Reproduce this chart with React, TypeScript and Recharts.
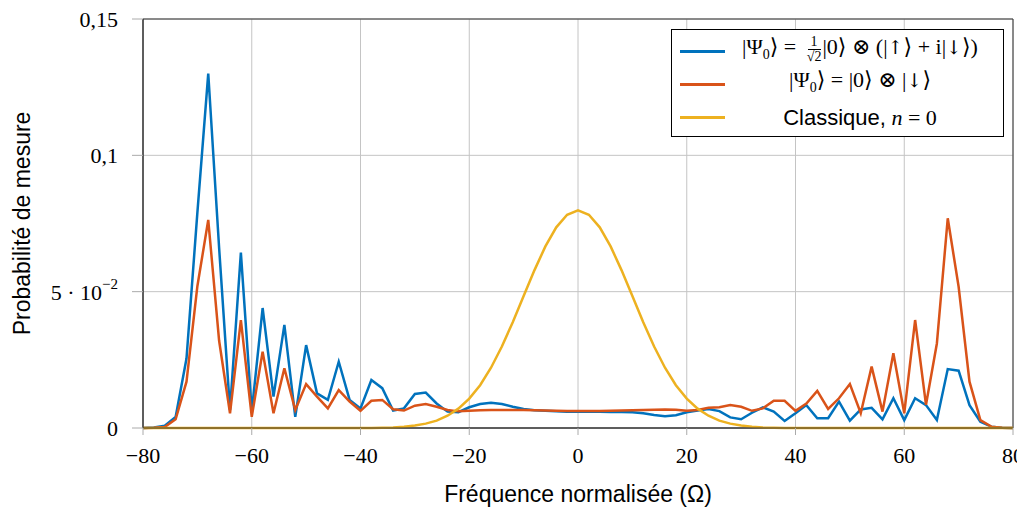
import { LineChart, Line, XAxis, YAxis, CartesianGrid, Legend, ReferenceArea, Label } from 'recharts';

const frequences = [
  -80, -78, -76, -74, -72, -70, -68, -66, -64, -62, -60, -58, -56, -54, -52, -50, -48, -46, -44, -42, -40,
  -38, -36, -34, -32, -30, -28, -26, -24, -22, -20, -18, -16, -14, -12, -10, -8, -6, -4, -2, 0,
  2, 4, 6, 8, 10, 12, 14, 16, 18, 20, 22, 24, 26, 28, 30, 32, 34, 36, 38, 40,
  42, 44, 46, 48, 50, 52, 54, 56, 58, 60, 62, 64, 66, 68, 70, 72, 74, 76, 78, 80,
];

// |Psi0> = 1/sqrt2 |0> (x) (|up> + i|down>)
const superpose = [
  0, 0.0002, 0.0008, 0.004, 0.0255, 0.079, 0.13, 0.066, 0.0066, 0.0643, 0.006,
  0.044, 0.0115, 0.0378, 0.0041, 0.0304, 0.0127, 0.0103, 0.0243, 0.0103, 0.0072,
  0.0176, 0.0146, 0.0064, 0.0072, 0.0125, 0.013, 0.009, 0.006, 0.0058, 0.0076,
  0.0088, 0.0093, 0.0088, 0.0078, 0.007, 0.0065, 0.0063, 0.0061, 0.006, 0.006,
  0.006, 0.006, 0.0059, 0.0059, 0.0058, 0.0054, 0.0048, 0.0043, 0.0047, 0.0058,
  0.0064, 0.007, 0.0062, 0.0039, 0.0032, 0.0056, 0.0076, 0.006, 0.0026, 0.0054,
  0.0084, 0.0036, 0.0036, 0.0097, 0.0027, 0.0068, 0.0074, 0.0032, 0.0109, 0.0029,
  0.0109, 0.0084, 0.0029, 0.0216, 0.021, 0.0084, 0.0023, 0.0005, 0.0001, 0,
];

// |Psi0> = |0> (x) |down>
const spinBas = [
  0, 0.0001, 0.0004, 0.0032, 0.017, 0.052, 0.0763, 0.032, 0.0054, 0.0396, 0.0041,
  0.028, 0.0054, 0.0219, 0.0066, 0.0161, 0.0115, 0.0072, 0.0139, 0.0097, 0.0063,
  0.01, 0.0103, 0.0069, 0.0064, 0.0082, 0.0088, 0.0078, 0.0066, 0.0061, 0.0063,
  0.0065, 0.0066, 0.0066, 0.0066, 0.0066, 0.0065, 0.0064, 0.0063, 0.0062, 0.0062,
  0.0062, 0.0062, 0.0063, 0.0064, 0.0065, 0.0066, 0.0067, 0.0068, 0.0067, 0.0063,
  0.0066, 0.0074, 0.0076, 0.0084, 0.0078, 0.0063, 0.0072, 0.01, 0.01, 0.0063,
  0.009, 0.0136, 0.007, 0.0109, 0.0161, 0.0054, 0.0225, 0.006, 0.0274, 0.0054,
  0.0396, 0.0085, 0.031, 0.0769, 0.0518, 0.017, 0.0029, 0.0005, 0.0001, 0,
];

// classique, n = 0
const classique = [
  0, 0, 0, 0, 0, 0, 0, 0, 0, 0, 0,
  0, 0, 0, 0, 0, 0, 0, 0, 0, 0,
  0, 0.0001, 0.0002, 0.0005, 0.0009, 0.0016, 0.0027, 0.0045, 0.0071, 0.0108,
  0.0157, 0.0221, 0.0299, 0.0388, 0.0484, 0.0579, 0.0666, 0.0736, 0.0782, 0.0798,
  0.0782, 0.0736, 0.0666, 0.0579, 0.0484, 0.0388, 0.0299, 0.0221, 0.0157, 0.0108,
  0.0071, 0.0045, 0.0027, 0.0016, 0.0009, 0.0005, 0.0002, 0.0001, 0, 0,
  0, 0, 0, 0, 0, 0, 0, 0, 0, 0,
  0, 0, 0, 0, 0, 0, 0, 0, 0, 0,
];

const xTicks = [-80, -60, -40, -20, 0, 20, 40, 60, 80];
const yTicks = [0, 0.05, 0.1, 0.15];
const seriesOrder = ['superpose', 'spinBas', 'classique'];

const BLUE = '#0072BD';
const ORANGE = '#D95319';
const YELLOW = '#EDB120';
const SERIF = '"Liberation Serif", "DejaVu Serif", serif';
const SANS = '"Liberation Sans", Arial, sans-serif';

const data = frequences.map((f, i) => ({
  f,
  superpose: superpose[i],
  spinBas: spinBas[i],
  classique: classique[i],
}));

function XTick({ x, y, payload }: any) {
  const v = payload.value as number;
  const txt = v < 0 ? `\u2212${Math.abs(v)}` : `${v}`;
  return (
    <text x={x} y={y + 18} textAnchor="middle" dominantBaseline="central" fontFamily={SERIF} fontSize={22} fill="#000">
      {txt}
    </text>
  );
}

function YTick({ x, y, payload }: any) {
  const v = payload.value as number;
  if (Math.abs(v - 0.05) < 1e-9) {
    return (
      <text x={x} y={y + 1} textAnchor="end" dominantBaseline="central" fontFamily={SERIF} fontSize={22} fill="#000">
        5 · 10<tspan dy={-9} fontSize={15}>−2</tspan>
      </text>
    );
  }
  const txt = v === 0 ? '0' : String(v).replace('.', ',');
  return (
    <text x={x} y={y} textAnchor="end" dominantBaseline="central" fontFamily={SERIF} fontSize={22} fill="#000">
      {txt}
    </text>
  );
}

function Ket({ children }: { children: any }) {
  return <span>|{children}⟩</span>;
}

function Arrow({ c }: { c: string }) {
  return <span style={{ fontFamily: '"DejaVu Serif", serif', fontSize: 19 }}>{c}</span>;
}

function Frac() {
  return (
    <span
      style={{
        display: 'inline-flex',
        flexDirection: 'column',
        alignItems: 'center',
        verticalAlign: 'middle',
        fontSize: 14,
        lineHeight: '14px',
        margin: '0 1px 0 5px',
      }}
    >
      <span style={{ borderBottom: '1px solid #000', padding: '0 3px' }}>1</span>
      <span>√2</span>
    </span>
  );
}

const legendLabels: Record<string, any> = {
  superpose: (
    <span>
      <Ket>
        Ψ<sub style={{ fontSize: 14 }}>0</sub>
      </Ket>{' '}
      = <Frac />
      <Ket>0</Ket> ⊗ (<Ket><Arrow c="↑" /></Ket> + i<Ket><Arrow c="↓" /></Ket>)
    </span>
  ),
  spinBas: (
    <span>
      <Ket>
        Ψ<sub style={{ fontSize: 14 }}>0</sub>
      </Ket>{' '}
      = <Ket>0</Ket> ⊗ <Ket><Arrow c="↓" /></Ket>
    </span>
  ),
  classique: (
    <span>
      <span style={{ fontFamily: SANS }}>Classique,</span> <i>n</i> = 0
    </span>
  ),
};

function LegendBox({ payload }: any) {
  const items = seriesOrder
    .map((k) => (payload || []).find((p: any) => p.dataKey === k))
    .filter(Boolean);
  return (
    <div
      style={{
        boxSizing: 'border-box',
        width: 333,
        height: 108,
        border: '1px solid #000',
        background: '#fff',
        paddingTop: 5,
        fontFamily: SERIF,
        fontSize: 22,
        color: '#000',
      }}
    >
      {items.map((p: any) => (
        <div key={p.dataKey} style={{ display: 'flex', alignItems: 'center', height: 33 }}>
          <div style={{ width: 45, height: 3, background: p.color, marginLeft: 8, flex: 'none' }} />
          <div style={{ width: 262, marginLeft: 4, textAlign: 'center', whiteSpace: 'nowrap', lineHeight: '26px' }}>
            {legendLabels[p.dataKey]}
          </div>
        </div>
      ))}
    </div>
  );
}

export default function App() {
  return (
    <div style={{ width: 1017, height: 504 }}>
      <LineChart width={1017} height={504} data={data} margin={{ top: 11, right: 12, left: 0, bottom: 0 }}>
        <CartesianGrid stroke="#c4c4c4" strokeWidth={1} />
        <XAxis
          dataKey="f"
          type="number"
          domain={[-80, 80]}
          ticks={xTicks}
          height={84}
          tick={<XTick />}
          tickSize={7}
          tickMargin={2}
          axisLine={{ stroke: '#333' }}
          tickLine={{ stroke: '#aaa' }}
        >
          <Label
            content={({ viewBox }: any) => (
              <text
                x={viewBox.x + viewBox.width / 2}
                y={486}
                textAnchor="middle"
                dominantBaseline="central"
                fontFamily={SANS}
                fontSize={23}
                fill="#000"
              >
                Fréquence normalisée (Ω)
              </text>
            )}
          />
        </XAxis>
        <YAxis
          type="number"
          domain={[0, 0.15]}
          ticks={yTicks}
          width={135}
          tick={<YTick />}
          tickSize={11}
          tickMargin={14}
          axisLine={{ stroke: '#333' }}
          tickLine={{ stroke: '#aaa' }}
        >
          <Label
            content={({ viewBox }: any) => {
              const cx = 14;
              const cy = viewBox.y + viewBox.height / 2;
              return (
                <text
                  x={cx}
                  y={cy}
                  transform={`rotate(-90, ${cx}, ${cy})`}
                  textAnchor="middle"
                  dominantBaseline="central"
                  fontFamily={SANS}
                  fontSize={23}
                  fill="#000"
                >
                  Probabilité de mesure
                </text>
              );
            }}
          />
        </YAxis>
        <ReferenceArea x1={-80} x2={80} y1={0} y2={0.15} fill="none" stroke="#333" strokeWidth={1} ifOverflow="visible" />
        <Line type="linear" dataKey="superpose" stroke={BLUE} strokeWidth={2.5} dot={false} isAnimationActive={false} />
        <Line type="linear" dataKey="spinBas" stroke={ORANGE} strokeWidth={2.5} dot={false} isAnimationActive={false} />
        <Line type="linear" dataKey="classique" stroke={YELLOW} strokeWidth={2.5} dot={false} isAnimationActive={false} />
        <Legend
          layout="vertical"
          verticalAlign="middle"
          align="center"
          content={<LegendBox />}
          wrapperStyle={{ left: 663, top: 21, width: 333, height: 108 }}
        />
      </LineChart>
    </div>
  );
}
